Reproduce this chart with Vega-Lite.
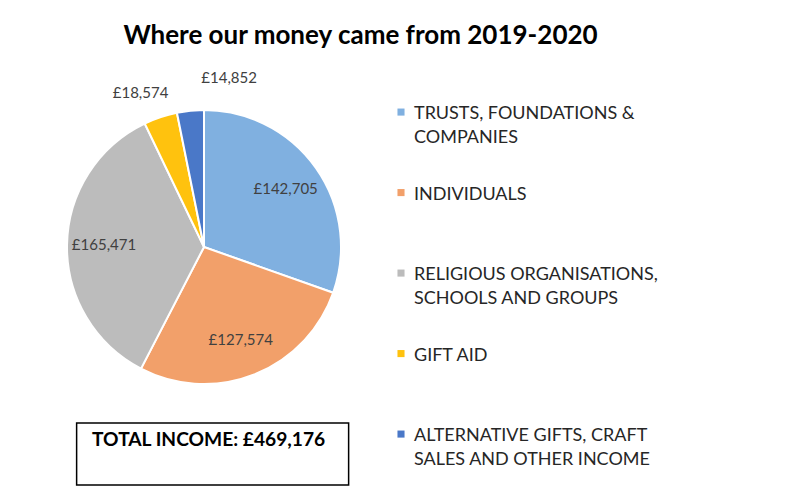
{
  "$schema": "https://vega.github.io/schema/vega-lite/v6.json",
  "background": "white",
  "padding": {"left": 63, "top": 22, "right": 0, "bottom": 0},
  "title": {
    "text": "Where our money came from 2019-2020",
    "font": "Lato",
    "fontSize": 26,
    "fontWeight": "bold",
    "color": "#000000",
    "anchor": "middle",
    "offset": 22
  },
  "vconcat": [
    {
      "width": 274,
      "height": 274,
      "data": {
        "values": [
          {"category": "TRUSTS, FOUNDATIONS &|COMPANIES", "value": 142705, "label": "£142,705", "order": 1, "pad": ""},
          {"category": "INDIVIDUALS|", "value": 127574, "label": "£127,574", "order": 2, "pad": ""},
          {"category": "RELIGIOUS ORGANISATIONS,|SCHOOLS AND GROUPS", "value": 165471, "label": "£165,471", "order": 3, "pad": ""},
          {"category": "GIFT AID|", "value": 18574, "label": "£18,574", "order": 4, "pad": ""},
          {"category": "ALTERNATIVE GIFTS, CRAFT|SALES AND OTHER INCOME", "value": 14852, "label": "£14,852", "order": 5, "pad": ""}
        ]
      },
      "encoding": {
        "theta": {"field": "value", "type": "quantitative", "stack": true},
        "order": {"field": "order", "type": "quantitative"}
      },
      "layer": [
        {
          "mark": {"type": "arc", "stroke": "white", "strokeWidth": 2},
          "encoding": {
            "color": {
              "field": "category",
              "type": "nominal",
              "sort": {"field": "order"},
              "scale": {
                "domain": [
                  "TRUSTS, FOUNDATIONS &|COMPANIES",
                  "INDIVIDUALS|",
                  "RELIGIOUS ORGANISATIONS,|SCHOOLS AND GROUPS",
                  "GIFT AID|",
                  "ALTERNATIVE GIFTS, CRAFT|SALES AND OTHER INCOME"
                ],
                "range": ["#80b0e0", "#f2a06a", "#bcbcbc", "#ffc20e", "#4a78c8"]
              },
              "legend": {
                "title": null,
                "orient": "none",
                "legendX": 325,
                "legendY": -14,
                "labelExpr": "split(datum.label, '|')",
                "labelFont": "Lato",
                "labelFontSize": 18,
                "labelColor": "#262626",
                "labelLimit": 400,
                "labelOffset": 4,
                "symbolType": "M-1,1H1V3H-1Z",
                "symbolSize": 50,
                "symbolStrokeWidth": 0,
                "rowPadding": 29.5,
                "labelBaseline": "top"
              }
            }
          }
        },
        {
          "mark": {
            "type": "text",
            "radius": {"expr": "datum.order == 4 ? 162 : datum.order == 5 ? 170 : 100"},
            "dx": {"expr": "datum.order == 5 ? 42 : datum.order == 4 ? -12 : 0"},
            "font": "Lato",
            "fontSize": 15,
            "fill": "#404040"
          },
          "encoding": {
            "text": {"field": "label", "type": "nominal"}
          }
        },
        {
          "mark": {"type": "text", "radius": 0, "dx": 155, "fontSize": 1},
          "encoding": {
            "text": {"field": "pad", "type": "nominal"}
          }
        }
      ]
    },
    {
      "width": 272,
      "height": 62,
      "data": {"values": [{"t": "TOTAL INCOME: £469,176"}]},
      "view": {"stroke": "#000000", "strokeWidth": 1.5},
      "mark": {"type": "text", "font": "Lato", "fontSize": 19.2, "fontWeight": "bold", "color": "#000000", "dy": -14, "dx": -4},
      "encoding": {"text": {"field": "t", "type": "nominal"}}
    }
  ],
  "spacing": 34,
  "center": true,
  "config": {
    "view": {"stroke": null},
    "style": {"guide-label": {"lineHeight": 24}}
  }
}
